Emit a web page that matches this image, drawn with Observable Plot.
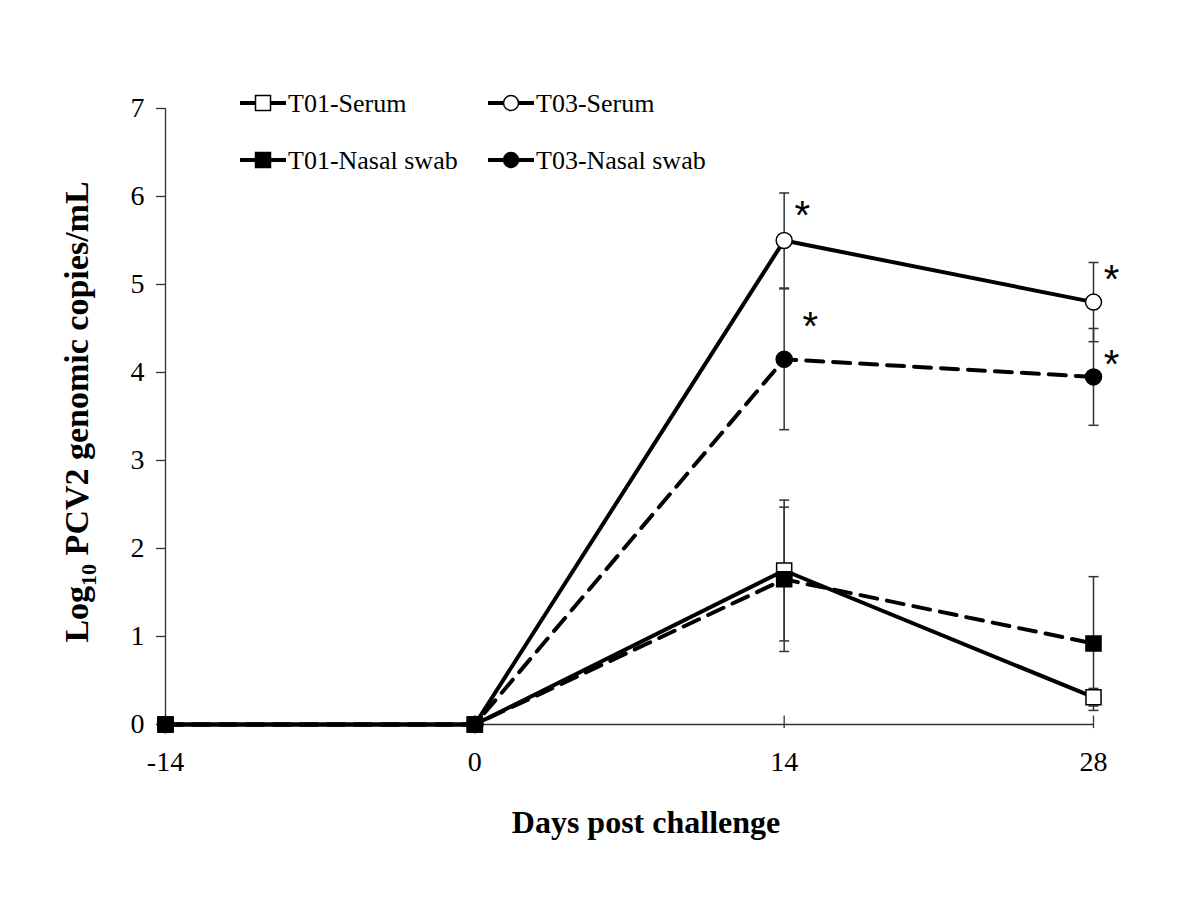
<!DOCTYPE html>
<html><head><meta charset="utf-8">
<script src="https://cdn.jsdelivr.net/npm/d3@7"></script>
<script src="https://cdn.jsdelivr.net/npm/@observablehq/plot@0.6"></script>
<style>
body{margin:0;background:#fff;}
#wrap{position:relative;width:1200px;height:900px;font-family:"Liberation Serif","Times New Roman",serif;}
#legend{position:absolute;left:0;top:0;width:1200px;height:200px;pointer-events:none;}
</style></head><body><div id="wrap"></div>
<script>
// ---- data ----
const days = [-14, 0, 14, 28];
const seriesNames = ["T01-Serum", "T03-Serum", "T01-Nasal swab", "T03-Nasal swab"];
const t01Serum = [0, 0, 1.75, 0.31];
const t03Serum = [0, 0, 5.50, 4.80];
const t01Nasal = [0, 0, 1.65, 0.92];
const t03Nasal = [0, 0, 4.15, 3.95];
const t01SerumErr = [null, null, 0.80, 0.10];
const t03SerumErr = [null, null, 0.54, 0.45];
const t01NasalErr = [null, null, 0.82, 0.76];
const t03NasalErr = [null, null, 0.80, 0.55];
const yTicks = [0, 1, 2, 3, 4, 5, 6, 7];
const xTicks = [-14, 0, 14, 28];
const starDays = [14, 14, 28, 28];
const starSeries = ["T03-Serum", "T03-Nasal swab", "T03-Serum", "T03-Nasal swab"];
const starValues = [5.78, 4.52, 5.05, 4.08];

// ---- build table ----
const valuesBySeries = {
  "T01-Serum": [t01Serum, t01SerumErr],
  "T03-Serum": [t03Serum, t03SerumErr],
  "T01-Nasal swab": [t01Nasal, t01NasalErr],
  "T03-Nasal swab": [t03Nasal, t03NasalErr]
};
const rows = [];
for (const s of seriesNames) {
  const [vals, errs] = valuesBySeries[s];
  days.forEach((d, i) => rows.push({series: s, day: d, value: vals[i], err: errs[i],
    serum: s.includes("Serum"), t01: s.startsWith("T01")}));
}
const errRows = rows.filter(d => d.err != null);
const capRows = errRows.flatMap(d => [{...d, cap: d.value - d.err}, {...d, cap: d.value + d.err}]);
const stars = starDays.map((d, i) => ({day: d, series: starSeries[i], value: starValues[i]}));

const capSymbol = {draw(ctx, size) { const w = Math.sqrt(size / Math.PI); ctx.moveTo(-w, 0); ctx.lineTo(w, 0); }};
const vTick = {draw(ctx, size) { const w = Math.sqrt(size / Math.PI); ctx.moveTo(0, -w); ctx.lineTo(0, w * 0.4); }};

const font = "Liberation Serif, Times New Roman, serif";
const isNasal14 = d => d.day === 14 && d.series === "T03-Nasal swab";
const chart = Plot.plot({
  width: 1200, height: 900,
  marginLeft: 165, marginRight: 107, marginTop: 108, marginBottom: 176,
  style: {fontFamily: font, fontSize: "28px", color: "black", background: "white"},
  x: {domain: [-14, 28]},
  y: {domain: [0, 7]},
  marks: [
    Plot.axisY({ticks: yTicks, tickSize: 9, tickPadding: 12, label: null, stroke: "#333", strokeWidth: 1.3,
      fontSize: 28, tickFormat: d => String(d)}),
    Plot.axisX({ticks: xTicks, tickSize: 0, tickPadding: 27, label: null, fontSize: 28, tickFormat: d => String(d)}),
    Plot.ruleX([-14], {stroke: "#333", strokeWidth: 1.3}),
    Plot.ruleY([0], {stroke: "#333", strokeWidth: 1.3}),
    Plot.dot(xTicks.filter(d => d !== -14), {x: d => d, y: () => 0, symbol: vTick, r: 9, stroke: "#333", strokeWidth: 1.3}),
    Plot.ruleX(errRows, {x: "day", y1: d => d.value - d.err, y2: d => d.value + d.err, stroke: "#333", strokeWidth: 1.5}),
    Plot.dot(capRows, {x: "day", y: "cap", symbol: capSymbol, r: 5, stroke: "#333", strokeWidth: 1.5}),
    Plot.line(rows.filter(d => d.serum), {x: "day", y: "value", z: "series", stroke: "black", strokeWidth: 4}),
    Plot.line(rows.filter(d => !d.serum), {x: "day", y: "value", z: "series", stroke: "black", strokeWidth: 4, strokeDasharray: "17,10"}),
    Plot.dot(rows.filter(d => d.t01), {x: "day", y: "value", symbol: "square", r: 8.5,
      fill: d => d.serum ? "white" : "black", stroke: "black", strokeWidth: 1.5}),
    Plot.dot(rows.filter(d => !d.t01), {x: "day", y: "value", symbol: "circle", r: 8,
      fill: d => d.serum ? "white" : "black", stroke: "black", strokeWidth: 1.5}),
    Plot.text(stars.filter(d => !isNasal14(d)), {x: "day", y: "value", text: () => "*", dx: 18,
      fontFamily: "Liberation Sans, Arial, sans-serif", fontSize: 40}),
    Plot.text(stars.filter(isNasal14), {x: "day", y: "value", text: () => "*", dx: 26,
      fontFamily: "Liberation Sans, Arial, sans-serif", fontSize: 40})
  ]
});
const wrap = document.getElementById("wrap");
wrap.appendChild(chart);

// axis titles (with subscript)
const svg = d3.select(chart);
const yl = svg.append("text")
  .attr("transform", "translate(88,412) rotate(-90)")
  .attr("text-anchor", "middle")
  .attr("font-family", font).attr("font-weight", "bold").attr("font-size", 34).attr("fill", "black");
yl.append("tspan").text("Log");
yl.append("tspan").attr("font-size", 22).attr("dy", 8).text("10");
yl.append("tspan").attr("dy", -8).text(" PCV2 genomic copies/mL");
svg.append("text")
  .attr("x", 646).attr("y", 833)
  .attr("text-anchor", "middle")
  .attr("font-family", font).attr("font-weight", "bold").attr("font-size", 32).attr("fill", "black")
  .text("Days post challenge");

// legend (HTML overlay with small svg symbols)
const legendItems = [
  {name: seriesNames[0], sym: "square", fill: "white", col: 0, row: 0},
  {name: seriesNames[1], sym: "circle", fill: "white", col: 1, row: 0},
  {name: seriesNames[2], sym: "square", fill: "black", col: 0, row: 1},
  {name: seriesNames[3], sym: "circle", fill: "black", col: 1, row: 1}
];
const lg = d3.select(wrap).append("svg").attr("id", "legend").attr("width", 1200).attr("height", 200);
const colX = [240, 488], rowY = [103, 160];
for (const it of legendItems) {
  const g = lg.append("g").attr("transform", `translate(${colX[it.col]},${rowY[it.row]})`);
  g.append("line").attr("x1", 0).attr("x2", 46).attr("y1", 0).attr("y2", 0).attr("stroke", "black").attr("stroke-width", 4);
  if (it.sym === "square") g.append("rect").attr("x", 15.5).attr("y", -7.5).attr("width", 15).attr("height", 15)
    .attr("fill", it.fill).attr("stroke", "black").attr("stroke-width", 1.5);
  else g.append("circle").attr("cx", 23).attr("cy", 0).attr("r", 7.5).attr("fill", it.fill).attr("stroke", "black").attr("stroke-width", 1.5);
  g.append("text").attr("x", 48).attr("y", 9).attr("font-family", font).attr("font-size", 26).attr("fill", "black").text(it.name);
}
</script></body></html>
